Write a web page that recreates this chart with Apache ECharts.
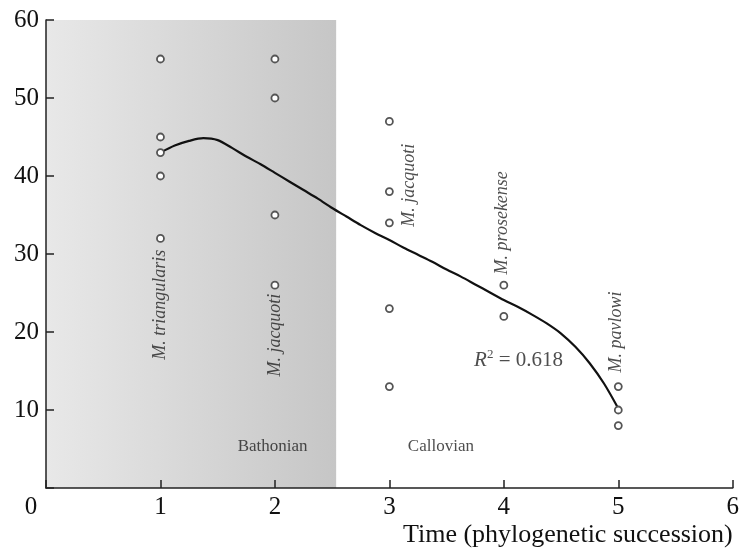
<!DOCTYPE html>
<html>
<head>
<meta charset="utf-8">
<script src="https://cdn.jsdelivr.net/npm/echarts@6/dist/echarts.min.js"></script>
<style>
html,body{margin:0;padding:0;background:#fff;}
#chart{width:742px;height:548px;}
</style>
</head>
<body>
<div id="chart"></div>
<script>
// measured points (x = phylogenetic step, y = value)
var pointX = [1, 1, 1, 1, 1, 2, 2, 2, 2, 3, 3, 3, 3, 3, 4, 4, 5, 5, 5];
var pointY = [55, 45, 43, 40, 32, 55, 50, 35, 26, 47, 38, 34, 23, 13, 26, 22, 13, 10, 8];

// fitted trend, every eighth of a step
var curveX = [1, 1.125, 1.25, 1.375, 1.5, 1.625, 1.75, 1.875, 2, 2.125, 2.25, 2.375, 2.5, 2.625, 2.75, 2.875,
	3, 3.125, 3.25, 3.375, 3.5, 3.625, 3.75, 3.875, 4, 4.125, 4.25, 4.375, 4.5, 4.625, 4.75, 4.875, 5];
var curveY = [43, 43.9, 44.5, 44.85, 44.6, 43.6, 42.5, 41.5, 40.4, 39.3, 38.2, 37.1, 35.9, 34.8, 33.7, 32.7,
	31.8, 30.8, 29.9, 29, 28, 27.1, 26.1, 25.1, 24.1, 23.2, 22.2, 21.1, 19.8, 18.1, 16, 13.4, 10.2];

// species labels
var speciesName = ['M. triangularis', 'M. jacquoti', 'M. jacquoti', 'M. prosekense', 'M. pavlowi'];
var speciesX = [1, 2, 3.17, 3.99, 4.98];
var speciesY = [23.5, 19.6, 38.8, 34, 20];

// stage labels
var stageName = ['Bathonian', 'Callovian'];
var stageX = [1.98, 3.45];
var stageY = [5.3, 5.3];

var bathonianEnd = 2.535;
var r2Text = '0.618';
var r2X = 3.74, r2Y = 16.4;

var xTicks = [0, 1, 2, 3, 4, 5, 6];
var yTicks = [0, 10, 20, 30, 40, 50, 60];

var serif = 'Liberation Serif';

var points = [];
for (var i = 0; i < pointX.length; i++) points.push([pointX[i], pointY[i]]);
var curve = [];
for (var i = 0; i < curveX.length; i++) curve.push([curveX[i], curveY[i]]);
var species = [];
for (var i = 0; i < speciesName.length; i++) species.push({value: [speciesX[i], speciesY[i]], name: speciesName[i]});
var stages = [];
for (var i = 0; i < stageName.length; i++) stages.push({value: [stageX[i], stageY[i]], name: stageName[i]});

var myChart = echarts.init(document.getElementById('chart'));
var option = {
	animation: false,
	grid: {left: 46, right: 5, top: 20, bottom: 60},
	xAxis: {
		type: 'value',
		z: 10,
		min: xTicks[0],
		max: xTicks[xTicks.length - 1],
		interval: 1,
		splitLine: {show: false},
		axisLine: {lineStyle: {color: '#222', width: 1.5}},
		axisTick: {inside: true, length: 8, lineStyle: {color: '#222', width: 1.5}},
		axisLabel: {
			color: '#111', fontFamily: serif, fontSize: 25, margin: 7,
			formatter: function (v) { return v === 0 ? '{z|0}' : String(v); },
			rich: {z: {fontFamily: serif, fontSize: 25, color: '#111', padding: [0, 30, 0, 0]}}
		},
		name: 'Time (phylogenetic succession)',
		nameLocation: 'end',
		nameGap: 0,
		nameTextStyle: {
			fontFamily: serif, fontSize: 26, color: '#111',
			align: 'right', verticalAlign: 'top', padding: [34, 0, 0, 0]
		}
	},
	yAxis: {
		type: 'value',
		z: 10,
		min: yTicks[0],
		max: yTicks[yTicks.length - 1],
		interval: 10,
		splitLine: {show: false},
		axisLine: {lineStyle: {color: '#222', width: 1.5}},
		axisTick: {inside: true, length: 8, lineStyle: {color: '#222', width: 1.5}},
		axisLabel: {
			color: '#111', fontFamily: serif, fontSize: 25, margin: 7,
			formatter: function (v) { return v === 0 ? '' : String(v); }
		}
	},
	series: [
		{
			type: 'line',
			data: curve,
			smooth: 0.3,
			showSymbol: false,
			z: 3,
			lineStyle: {color: '#111', width: 2.2},
			markArea: {
				silent: true,
				itemStyle: {
					color: new echarts.graphic.LinearGradient(0, 0, 1, 0, [
						{offset: 0, color: '#e8e8e8'},
						{offset: 1, color: '#c6c6c6'}
					])
				},
				data: [[{xAxis: 0, yAxis: 0}, {xAxis: bathonianEnd, yAxis: 60}]]
			}
		},
		{
			type: 'scatter',
			data: points,
			symbol: 'circle',
			symbolSize: 7,
			z: 4,
			itemStyle: {color: '#fff', borderColor: '#555', borderWidth: 1.8, opacity: 1}
		},
		{
			type: 'scatter',
			data: species,
			symbolSize: 0,
			z: 5,
			label: {
				show: true, position: 'inside', rotate: 90,
				formatter: '{b}',
				fontFamily: serif, fontStyle: 'italic', fontSize: 18, color: '#222'
			}
		},
		{
			type: 'scatter',
			data: stages,
			symbolSize: 0,
			z: 5,
			label: {
				show: true, position: 'inside',
				formatter: '{b}',
				fontFamily: serif, fontSize: 17, color: '#222'
			}
		},
		{
			type: 'scatter',
			data: [{value: [r2X, r2Y], name: r2Text}],
			symbolSize: 0,
			z: 5,
			label: {
				show: true, position: 'right', distance: 0,
				formatter: '{i|R}{s|2}{t| = ' + r2Text + '}',
				rich: {
					i: {fontFamily: serif, fontStyle: 'italic', fontSize: 21, color: '#222'},
					s: {fontFamily: serif, fontSize: 13, color: '#222', padding: [0, 0, 11, 0]},
					t: {fontFamily: serif, fontSize: 21, color: '#222'}
				}
			}
		}
	]
};
myChart.setOption(option);
</script>
</body>
</html>
